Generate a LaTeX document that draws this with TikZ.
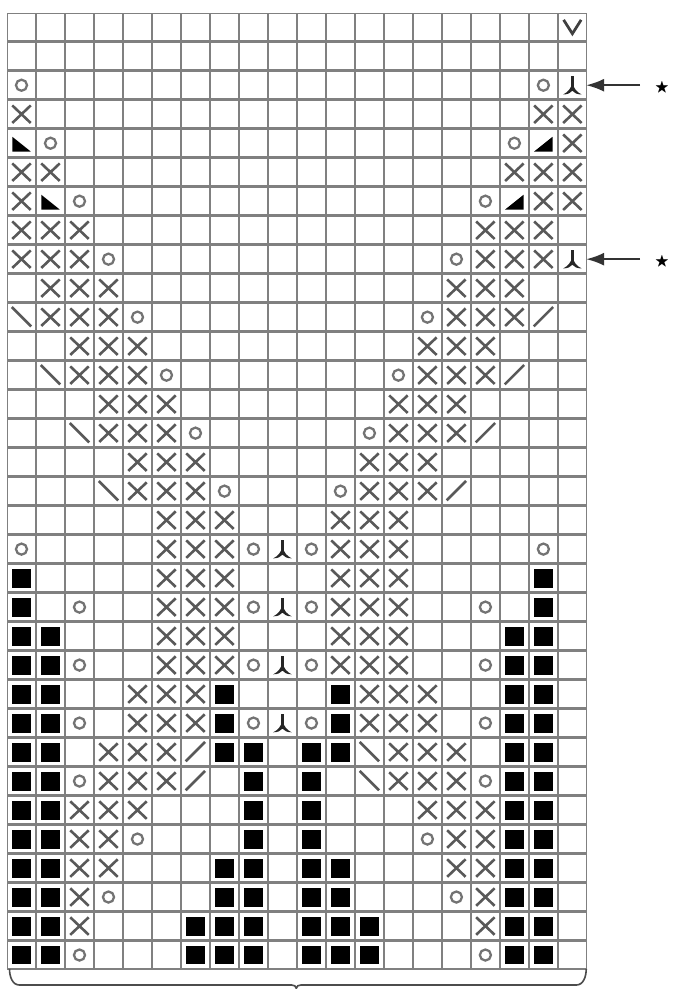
\documentclass[tikz,border=0pt]{standalone}
\usepackage{amssymb}
\usetikzlibrary{matrix,calc,arrows.meta}

\newcommand{\knit}[1]{\tikz[baseline=0pt]{\useasboundingbox (-.25,-.25) rectangle (.25,.25); #1}}
\newcommand{\ke}{}
\newcommand{\kx}{\knit{\draw[black!65, line width=1.6pt] (-.2,-.19) -- (.2,.19) (-.2,.19) -- (.2,-.19);}}
\newcommand{\ko}{\knit{\draw[black!55, line width=1.4pt] (0,0) circle (.12);}}
\newcommand{\kb}{\knit{\fill[black] (-.205,-.205) rectangle (.205,.205);}}
\newcommand{\kv}{\knit{\draw[black!75, line width=1.7pt] (-.19,.16) -- (0,-.14) -- (.19,.16);}}
\newcommand{\kl}{\knit{\fill[black] (-.2,.14) -- (-.2,-.18) -- (.2,-.18) -- cycle;}}
\newcommand{\kr}{\knit{\fill[black] (.2,.14) -- (.2,-.18) -- (-.2,-.18) -- cycle;}}
\newcommand{\kd}{\knit{\draw[black!65, line width=1.6pt] (-.21,.22) -- (.21,-.2);}}
\newcommand{\ku}{\knit{\draw[black!65, line width=1.6pt] (-.21,-.2) -- (.21,.22);}}
\newcommand{\ky}{\knit{\draw[black!85, line width=1.5pt] (0,.19) -- (0,-.05);
  \fill[black!85] (0,.06) .. controls (-.03,-.08) and (-.1,-.15) .. (-.2,-.2)
    .. controls (-.1,-.2) and (-.04,-.17) .. (0,-.12)
    .. controls (.04,-.17) and (.1,-.2) .. (.2,-.2)
    .. controls (.1,-.15) and (.03,-.08) .. (0,.06) -- cycle;}}

\begin{document}
\begin{tikzpicture}[
  pointer/.style={-{Latex[length=11pt,width=8pt]}, draw=black!80, line width=1.2pt, shorten <=.2cm},
  brc/.style={draw=black!70, line width=1pt}]

\matrix (chart) [matrix of nodes, nodes in empty cells,
                 nodes={draw=black!50, line width=.8pt, minimum size=.6cm, inner sep=0pt, outer sep=0pt, anchor=center},
                 column sep=0pt, row sep=0pt] {
\ke&\ke&\ke&\ke&\ke & \ke&\ke&\ke&\ke&\ke & \ke&\ke&\ke&\ke&\ke & \ke&\ke&\ke&\ke&\kv \\
\ke&\ke&\ke&\ke&\ke & \ke&\ke&\ke&\ke&\ke & \ke&\ke&\ke&\ke&\ke & \ke&\ke&\ke&\ke&\ke \\
\ko&\ke&\ke&\ke&\ke & \ke&\ke&\ke&\ke&\ke & \ke&\ke&\ke&\ke&\ke & \ke&\ke&\ke&\ko&\ky \\
\kx&\ke&\ke&\ke&\ke & \ke&\ke&\ke&\ke&\ke & \ke&\ke&\ke&\ke&\ke & \ke&\ke&\ke&\kx&\kx \\
\kl&\ko&\ke&\ke&\ke & \ke&\ke&\ke&\ke&\ke & \ke&\ke&\ke&\ke&\ke & \ke&\ke&\ko&\kr&\kx \\
\kx&\kx&\ke&\ke&\ke & \ke&\ke&\ke&\ke&\ke & \ke&\ke&\ke&\ke&\ke & \ke&\ke&\kx&\kx&\kx \\
\kx&\kl&\ko&\ke&\ke & \ke&\ke&\ke&\ke&\ke & \ke&\ke&\ke&\ke&\ke & \ke&\ko&\kr&\kx&\kx \\
\kx&\kx&\kx&\ke&\ke & \ke&\ke&\ke&\ke&\ke & \ke&\ke&\ke&\ke&\ke & \ke&\kx&\kx&\kx&\ke \\
\kx&\kx&\kx&\ko&\ke & \ke&\ke&\ke&\ke&\ke & \ke&\ke&\ke&\ke&\ke & \ko&\kx&\kx&\kx&\ky \\
\ke&\kx&\kx&\kx&\ke & \ke&\ke&\ke&\ke&\ke & \ke&\ke&\ke&\ke&\ke & \kx&\kx&\kx&\ke&\ke \\
\kd&\kx&\kx&\kx&\ko & \ke&\ke&\ke&\ke&\ke & \ke&\ke&\ke&\ke&\ko & \kx&\kx&\kx&\ku&\ke \\
\ke&\ke&\kx&\kx&\kx & \ke&\ke&\ke&\ke&\ke & \ke&\ke&\ke&\ke&\kx & \kx&\kx&\ke&\ke&\ke \\
\ke&\kd&\kx&\kx&\kx & \ko&\ke&\ke&\ke&\ke & \ke&\ke&\ke&\ko&\kx & \kx&\kx&\ku&\ke&\ke \\
\ke&\ke&\ke&\kx&\kx & \kx&\ke&\ke&\ke&\ke & \ke&\ke&\ke&\kx&\kx & \kx&\ke&\ke&\ke&\ke \\
\ke&\ke&\kd&\kx&\kx & \kx&\ko&\ke&\ke&\ke & \ke&\ke&\ko&\kx&\kx & \kx&\ku&\ke&\ke&\ke \\
\ke&\ke&\ke&\ke&\kx & \kx&\kx&\ke&\ke&\ke & \ke&\ke&\kx&\kx&\kx & \ke&\ke&\ke&\ke&\ke \\
\ke&\ke&\ke&\kd&\kx & \kx&\kx&\ko&\ke&\ke & \ke&\ko&\kx&\kx&\kx & \ku&\ke&\ke&\ke&\ke \\
\ke&\ke&\ke&\ke&\ke & \kx&\kx&\kx&\ke&\ke & \ke&\kx&\kx&\kx&\ke & \ke&\ke&\ke&\ke&\ke \\
\ko&\ke&\ke&\ke&\ke & \kx&\kx&\kx&\ko&\ky & \ko&\kx&\kx&\kx&\ke & \ke&\ke&\ke&\ko&\ke \\
\kb&\ke&\ke&\ke&\ke & \kx&\kx&\kx&\ke&\ke & \ke&\kx&\kx&\kx&\ke & \ke&\ke&\ke&\kb&\ke \\
\kb&\ke&\ko&\ke&\ke & \kx&\kx&\kx&\ko&\ky & \ko&\kx&\kx&\kx&\ke & \ke&\ko&\ke&\kb&\ke \\
\kb&\kb&\ke&\ke&\ke & \kx&\kx&\kx&\ke&\ke & \ke&\kx&\kx&\kx&\ke & \ke&\ke&\kb&\kb&\ke \\
\kb&\kb&\ko&\ke&\ke & \kx&\kx&\kx&\ko&\ky & \ko&\kx&\kx&\kx&\ke & \ke&\ko&\kb&\kb&\ke \\
\kb&\kb&\ke&\ke&\kx & \kx&\kx&\kb&\ke&\ke & \ke&\kb&\kx&\kx&\kx & \ke&\ke&\kb&\kb&\ke \\
\kb&\kb&\ko&\ke&\kx & \kx&\kx&\kb&\ko&\ky & \ko&\kb&\kx&\kx&\kx & \ke&\ko&\kb&\kb&\ke \\
\kb&\kb&\ke&\kx&\kx & \kx&\ku&\kb&\kb&\ke & \kb&\kb&\kd&\kx&\kx & \kx&\ke&\kb&\kb&\ke \\
\kb&\kb&\ko&\kx&\kx & \kx&\ku&\ke&\kb&\ke & \kb&\ke&\kd&\kx&\kx & \kx&\ko&\kb&\kb&\ke \\
\kb&\kb&\kx&\kx&\kx & \ke&\ke&\ke&\kb&\ke & \kb&\ke&\ke&\ke&\kx & \kx&\kx&\kb&\kb&\ke \\
\kb&\kb&\kx&\kx&\ko & \ke&\ke&\ke&\kb&\ke & \kb&\ke&\ke&\ke&\ko & \kx&\kx&\kb&\kb&\ke \\
\kb&\kb&\kx&\kx&\ke & \ke&\ke&\kb&\kb&\ke & \kb&\kb&\ke&\ke&\ke & \kx&\kx&\kb&\kb&\ke \\
\kb&\kb&\kx&\ko&\ke & \ke&\ke&\kb&\kb&\ke & \kb&\kb&\ke&\ke&\ke & \ko&\kx&\kb&\kb&\ke \\
\kb&\kb&\kx&\ke&\ke & \ke&\kb&\kb&\kb&\ke & \kb&\kb&\kb&\ke&\ke & \ke&\kx&\kb&\kb&\ke \\
\kb&\kb&\ko&\ke&\ke & \ke&\kb&\kb&\kb&\ke & \kb&\kb&\kb&\ke&\ke & \ke&\ko&\kb&\kb&\ke \\
};

\useasboundingbox ($(chart-1-1.north west)+(-.166,.29)$) rectangle ($(chart-33-20.south east)+(1.868,-.436)$);

\node[font=\small] (star1) at ($(chart-3-20.east)+(1.64,-.05)$) {$\bigstar$};
\node[font=\small] (star2) at ($(chart-9-20.east)+(1.64,-.05)$) {$\bigstar$};
\draw[pointer] (star1.west |- chart-3-20) -- (chart-3-20);
\draw[pointer] (star2.west |- chart-9-20) -- (chart-9-20);

\draw[brc] ($(chart-33-1.south west)+(.04,0)$) to[out=-90,in=180] ++(.22,-.35)
  -- ($(chart-33-10.south east)+(-.1,-.35)$) to[out=0,in=90] ++(.1,-.07)
  to[out=90,in=180] ++(.1,.07)
  -- ($(chart-33-20.south east)+(-.22,-.35)$) to[out=0,in=-90] ++(.22,.35);
\end{tikzpicture}
\end{document}
